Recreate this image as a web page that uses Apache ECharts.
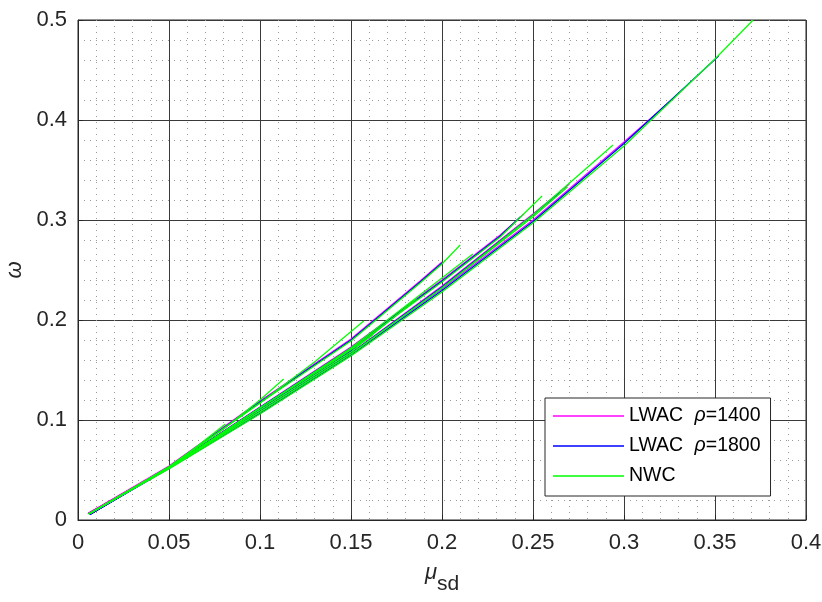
<!DOCTYPE html>
<html>
<head>
<meta charset="utf-8">
<script src="https://cdn.jsdelivr.net/npm/echarts@6/dist/echarts.min.js"></script>
<style>html,body{margin:0;padding:0;background:#fff}#c{width:822px;height:602px}</style>
</head>
<body>
<div id="c"></div>
<script>
// ---- data ----
const seriesNames = ['LWAC ρ=1400', 'LWAC ρ=1800', 'NWC'];
const seriesColors = ['#ff00ff', '#0000ff', '#00ff00'];
const xTickLabels = ['0', '0.05', '0.1', '0.15', '0.2', '0.25', '0.3', '0.35', '0.4'];
const yTickLabels = ['0', '0.1', '0.2', '0.3', '0.4', '0.5'];

// LWAC rho=1400 curves (magenta)
const lwac1400_1 = [[0.0055,0.0065],[0.05,0.054],[0.1,0.119],[0.15,0.181],[0.188,0.239],[0.2,0.258]];
const lwac1400_2 = [[0.0055,0.0065],[0.05,0.053],[0.1,0.113],[0.15,0.173],[0.2,0.240],[0.232,0.285],[0.245,0.306]];
const lwac1400_3 = [[0.0055,0.0065],[0.05,0.052],[0.1,0.109],[0.15,0.167],[0.2,0.234],[0.25,0.306],[0.27,0.336]];
const lwac1400_4 = [[0.0055,0.0065],[0.05,0.052],[0.1,0.107],[0.15,0.166],[0.2,0.231],[0.25,0.300],[0.3,0.378],[0.328,0.423]];
const lwac1400_5 = [[0.0055,0.0065],[0.05,0.053],[0.1,0.112],[0.15,0.170],[0.18,0.212]];

// LWAC rho=1800 curves (blue)
const lwac1800_1 = [[0.0065,0.0055],[0.05,0.053],[0.1,0.118],[0.15,0.180],[0.188,0.238],[0.2,0.257]];
const lwac1800_2 = [[0.0065,0.0055],[0.05,0.0525],[0.1,0.1125],[0.15,0.172],[0.2,0.239],[0.232,0.284],[0.243,0.303]];
const lwac1800_3 = [[0.0065,0.0055],[0.05,0.052],[0.1,0.1085],[0.15,0.1665],[0.2,0.233],[0.25,0.305],[0.265,0.328]];
const lwac1800_4 = [[0.0065,0.0055],[0.05,0.0515],[0.1,0.1065],[0.15,0.165],[0.2,0.2295],[0.25,0.2985],[0.3,0.3765],[0.352,0.464]];
const lwac1800_5 = [[0.0065,0.0055],[0.05,0.0525],[0.1,0.111],[0.15,0.169],[0.175,0.205]];

// NWC curves (green)
const nwc_1  = [[0.006,0.006],[0.03,0.031],[0.05,0.053],[0.065,0.073],[0.081,0.096]];
const nwc_2  = [[0.006,0.006],[0.05,0.053],[0.08,0.091],[0.1,0.12],[0.113,0.141]];
const nwc_3  = [[0.006,0.006],[0.05,0.053],[0.1,0.117],[0.13,0.158],[0.157,0.199]];
const nwc_4  = [[0.006,0.006],[0.05,0.052],[0.1,0.112],[0.14,0.158],[0.162,0.185]];
const nwc_5  = [[0.006,0.006],[0.05,0.052],[0.1,0.110],[0.15,0.168],[0.186,0.221]];
const nwc_6  = [[0.006,0.006],[0.05,0.053],[0.1,0.117],[0.15,0.179],[0.188,0.237],[0.2,0.256],[0.21,0.275]];
const nwc_7  = [[0.006,0.006],[0.05,0.052],[0.1,0.112],[0.15,0.172],[0.2,0.242],[0.217,0.266]];
const nwc_8  = [[0.006,0.006],[0.05,0.052],[0.1,0.112],[0.15,0.171],[0.2,0.238],[0.232,0.283],[0.255,0.324]];
const nwc_9  = [[0.006,0.006],[0.05,0.052],[0.1,0.108],[0.15,0.166],[0.2,0.232],[0.25,0.303],[0.269,0.333]];
const nwc_10 = [[0.006,0.006],[0.05,0.052],[0.1,0.108],[0.15,0.166],[0.2,0.232],[0.25,0.305],[0.294,0.375]];
const nwc_11 = [[0.006,0.006],[0.05,0.051],[0.1,0.106],[0.15,0.164],[0.2,0.228],[0.25,0.297],[0.3,0.374],[0.35,0.461],[0.371,0.5]];

const lwac1400Curves = [lwac1400_1, lwac1400_2, lwac1400_3, lwac1400_4, lwac1400_5];
const lwac1800Curves = [lwac1800_1, lwac1800_2, lwac1800_3, lwac1800_4, lwac1800_5];
const nwcCurves = [nwc_1, nwc_2, nwc_3, nwc_4, nwc_5, nwc_6, nwc_7, nwc_8, nwc_9, nwc_10, nwc_11];

// ---- chart ----
const FONT = "'Liberation Sans', Arial, Helvetica, sans-serif";
const groups = [lwac1400Curves, lwac1800Curves, nwcCurves];
const series = [];
groups.forEach((curves, gi) => {
  curves.forEach(c => {
    series.push({
      name: seriesNames[gi],
      type: 'line',
      data: c,
      showSymbol: false,
      symbol: 'none',
      smooth: false,
      lineStyle: { color: seriesColors[gi], width: 1.2 },
      itemStyle: { color: seriesColors[gi] },
      emphasis: { disabled: true },
      animation: false
    });
  });
});

const chart = echarts.init(document.getElementById('c'), null, { renderer: 'canvas' });
chart.setOption({
  animation: false,
  backgroundColor: '#fff',
  grid: { left: 78, right: 16, top: 20, bottom: 82, outerBoundsMode: 'none', containLabel: false,
          show: true, borderColor: '#262626', borderWidth: 1, backgroundColor: 'transparent' },
  xAxis: {
    type: 'value', min: 0, max: 0.4, interval: 0.05,
    name: '{m|μ}{s|sd}', nameLocation: 'middle', nameGap: 42,
    nameTextStyle: {
      rich: {
        m: { fontFamily: FONT, fontSize: 22, fontStyle: 'italic', color: '#262626', verticalAlign: 'top', lineHeight: 22 },
        s: { fontFamily: FONT, fontSize: 21, color: '#262626', verticalAlign: 'bottom', lineHeight: 33 }
      }
    },
    axisLine: { show: true, lineStyle: { color: '#262626', width: 1 } },
    axisTick: { show: true, inside: true, length: 5, lineStyle: { color: '#262626' } },
    axisLabel: {
      margin: 12, fontFamily: FONT, fontSize: 22, color: '#262626',
      formatter: v => xTickLabels[Math.round(v / 0.05)]
    },
    splitLine: { show: true, lineStyle: { color: '#3a3a3a', width: 1 } },
    minorTick: { show: false, splitNumber: 5 },
    minorSplitLine: { show: true, lineStyle: { color: '#9a9a9a', width: 1, type: [1, 5] } }
  },
  yAxis: {
    type: 'value', min: 0, max: 0.5, interval: 0.1,
    name: 'ω', nameLocation: 'middle', nameGap: 50, nameRotate: 90,
    nameTextStyle: { fontFamily: FONT, fontSize: 22, fontStyle: 'italic', color: '#262626' },
    axisLine: { show: true, lineStyle: { color: '#262626', width: 1 } },
    axisTick: { show: true, inside: true, length: 5, lineStyle: { color: '#262626' } },
    axisLabel: {
      margin: 11, fontFamily: FONT, fontSize: 22, color: '#262626',
      formatter: v => yTickLabels[Math.round(v / 0.1)]
    },
    splitLine: { show: true, lineStyle: { color: '#3a3a3a', width: 1 } },
    minorTick: { show: false, splitNumber: 5 },
    minorSplitLine: { show: true, lineStyle: { color: '#9a9a9a', width: 1, type: [1, 5] } }
  },
  legend: {
    show: true, orient: 'vertical', left: 545, top: 398,
    padding: [8, 10, 10, 8],
    backgroundColor: '#fff', borderColor: '#262626', borderWidth: 1, borderRadius: 0,
    itemWidth: 71, itemHeight: 1.5, itemGap: 10,
    data: seriesNames.map(n => ({ name: n, icon: 'rect' })),
    formatter: n => n.replace(' ρ', ' {i|ρ}'),
    textStyle: {
      fontFamily: FONT, fontSize: 19.5, color: '#000', lineHeight: 20,
      rich: { i: { fontFamily: FONT, fontSize: 19.5, fontStyle: 'italic', color: '#000', padding: [0, 0, 0, 6] } }
    },
    selectedMode: false
  },
  series: series
});
</script>
</body>
</html>
